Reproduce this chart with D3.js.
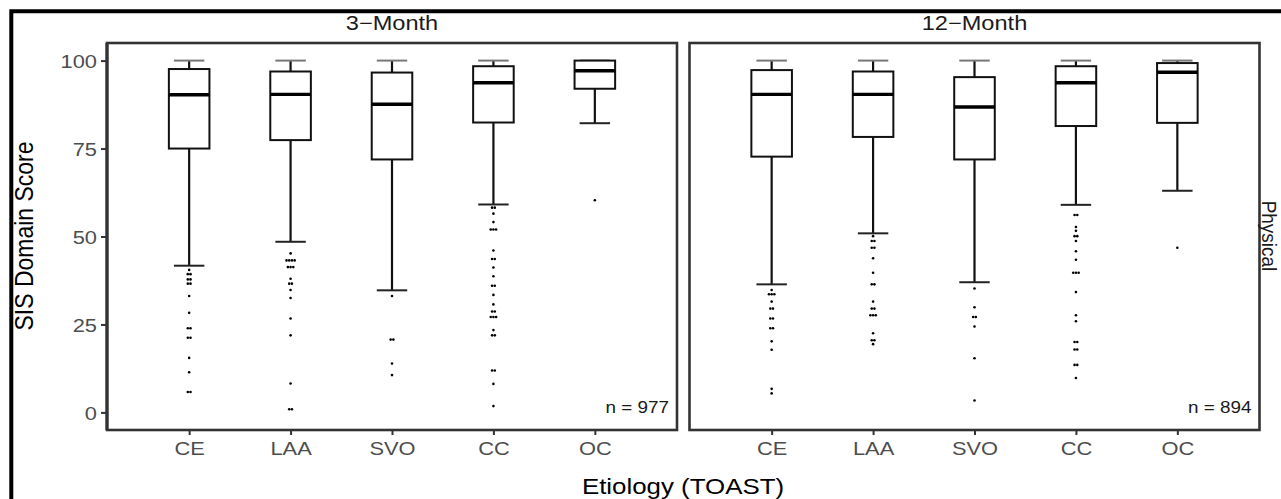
<!DOCTYPE html>
<html>
<head>
<meta charset="utf-8">
<script src="https://cdn.jsdelivr.net/npm/d3@7"></script>
<style>
  body { margin: 0; background: #fff; }
  text { font-family: "Liberation Sans", Arial, sans-serif; }
</style>
</head>
<body>
<div id="sis_box"></div>
<script>
// categories and labels
var etiologies = ['CE', 'LAA', 'SVO', 'CC', 'OC'];
var timepoints = ['3\u2212Month', '12\u2212Month'];
var sampleSizes = [977, 894];
var domainLabel = 'Physical';
var yTicks = [0, 25, 50, 75, 100];

// box stats, 3-month (per etiology)
var whiskerHigh3 = [100, 100, 100, 100, 100];
var q3_3 = [97.6, 96.9, 96.6, 98.4, 100];
var median3 = [90.3, 90.4, 87.6, 93.7, 97.1];
var q1_3 = [75.0, 77.4, 71.9, 82.4, 92.0];
var whiskerLow3 = [41.7, 48.5, 34.7, 59.1, 82.2];
var outliers3 = [
  [40.5, 39.3, 39.3, 37.8, 37.8, 36.6, 36.6, 33.1, 28.3, 23.9, 23.9, 21.2, 21.2, 15.5, 11.4, 5.8, 5.8],
  [45.2, 43.2, 43.2, 43.2, 43.2, 41.3, 41.3, 41.3, 38.0, 36.6, 36.6, 34.8, 32.5, 26.7, 21.9, 8.2, 0.9, 0.9],
  [33.1, 20.7, 20.7, 13.9, 10.6],
  [58.2, 58.2, 56.5, 54.1, 52.0, 52.0, 52.0, 46.0, 43.6, 43.6, 41.2, 38.7, 36.0, 36.0, 33.4, 30.7,
   28.7, 28.7, 27.1, 27.1, 27.1, 23.4, 21.9, 21.9, 11.9, 11.9, 8.1, 1.8],
  [60.3]
];

// box stats, 12-month
var whiskerHigh12 = [100, 100, 100, 100, 100];
var q3_12 = [97.3, 96.9, 95.3, 98.4, 99.3];
var median12 = [90.4, 90.4, 86.8, 93.7, 96.7];
var q1_12 = [72.7, 78.3, 71.9, 81.4, 82.3];
var whiskerLow12 = [36.4, 50.9, 37.0, 59.0, 63.0];
var outliers12 = [
  [34.8, 33.6, 33.6, 33.6, 31.5, 29.5, 29.5, 26.7, 26.7, 23.9, 23.9, 20.2, 17.8, 6.7, 5.4],
  [50.1, 48.7, 48.7, 46.8, 46.8, 43.8, 39.7, 36.4, 36.4, 31.5, 29.5, 29.5, 27.6, 27.6, 27.6, 22.5, 20.5, 20.5, 19.4],
  [35.2, 29.9, 27.1, 27.1, 24.4, 15.4, 3.4],
  [56.1, 56.1, 52.7, 51.6, 50.1, 50.1, 48.7, 45.8, 43.4, 39.7, 39.7, 39.7, 34.2, 27.6, 25.9,
   20.0, 20.0, 17.9, 17.9, 13.5, 13.5, 9.8],
  [46.8]
];

function makeStats(hi, q3, med, q1, lo, out) {
  return etiologies.map(function(e, i) {
    return {etiology: e, hi: hi[i], q3: q3[i], med: med[i], q1: q1[i], lo: lo[i], out: out[i]};
  });
}

var panels = [
  {title: timepoints[0], n: sampleSizes[0], stats: makeStats(whiskerHigh3, q3_3, median3, q1_3, whiskerLow3, outliers3)},
  {title: timepoints[1], n: sampleSizes[1], stats: makeStats(whiskerHigh12, q3_12, median12, q1_12, whiskerLow12, outliers12)}
];

// layout
var W = 1281, H = 499;
var panelLeft = [107, 689.5], panelW = 570;
var panelTop = 43, panelBottom = 430;
var stretch = 'scale(1.18,1)';   // source image is a bit wider than tall

var svg = d3.select('#sis_box').append('svg')
  .attr('width', W)
  .attr('height', H);

var x = d3.scalePoint()
  .domain(etiologies)
  .range([0, panelW])
  .padding(0.81);

var y = d3.scaleLinear()
  .domain([-5, 105])
  .range([panelBottom, panelTop]);

var boxW = x.step() * 0.4,
  capW = x.step() * 0.3;

panels.forEach(function(p, pi) {
  var g = svg.append('g').attr('transform', 'translate(' + panelLeft[pi] + ',0)');

  var box = g.selectAll('.box')
    .data(p.stats)
    .enter().append('g')
    .attr('class', 'box')
    .attr('transform', function(d) { return 'translate(' + x(d.etiology) + ',0)'; });

  // whiskers
  box.append('line')
    .attr('y1', function(d) { return y(d.q3); })
    .attr('y2', function(d) { return y(d.hi); })
    .attr('stroke', '#111').attr('stroke-width', 2.2);
  box.append('line')
    .attr('y1', function(d) { return y(d.q1); })
    .attr('y2', function(d) { return y(d.lo); })
    .attr('stroke', '#111').attr('stroke-width', 2.2);
  box.selectAll('.cap')
    .data(function(d) { return [d.hi, d.lo]; })
    .enter().append('line')
    .attr('class', 'cap')
    .attr('x1', -capW / 2).attr('x2', capW / 2)
    .attr('y1', function(v) { return y(v); })
    .attr('y2', function(v) { return y(v); })
    .attr('stroke', function(v, i) { return i === 0 ? '#777' : '#222'; })
    .attr('stroke-width', 2);

  // box + median
  box.append('rect')
    .attr('x', -boxW / 2)
    .attr('width', boxW)
    .attr('y', function(d) { return y(d.q3); })
    .attr('height', function(d) { return y(d.q1) - y(d.q3); })
    .attr('fill', '#fff')
    .attr('stroke', '#111')
    .attr('stroke-width', 2);
  box.append('line')
    .attr('x1', -boxW / 2).attr('x2', boxW / 2)
    .attr('y1', function(d) { return y(d.med); })
    .attr('y2', function(d) { return y(d.med); })
    .attr('stroke', '#000')
    .attr('stroke-width', 3.4);

  // outliers, tied values sit side by side
  box.selectAll('.out')
    .data(function(d) {
      var pts = [];
      d3.groups(d.out, function(v) { return v; }).forEach(function(grp) {
        grp[1].forEach(function(v, j) {
          pts.push({v: v, k: j - (grp[1].length - 1) / 2});
        });
      });
      return pts;
    })
    .enter().append('circle')
    .attr('class', 'out')
    .attr('cx', function(o) { return o.k * 2.7; })
    .attr('cy', function(o) { return y(o.v); })
    .attr('r', 1.3)
    .attr('fill', '#000');

  // panel border
  g.append('rect')
    .attr('x', 0).attr('y', panelTop)
    .attr('width', panelW).attr('height', panelBottom - panelTop)
    .attr('fill', 'none')
    .attr('stroke', '#333')
    .attr('stroke-width', 2.6);

  // x axis
  var xa = g.append('g')
    .attr('transform', 'translate(0,' + panelBottom + ')')
    .call(d3.axisBottom(x).tickSize(5).tickSizeOuter(0));
  xa.select('.domain').remove();
  xa.selectAll('line').attr('stroke', '#333').attr('stroke-width', 2);
  xa.selectAll('text')
    .attr('y', 25).attr('dy', null)
    .attr('transform', stretch)
    .attr('fill', '#4d4d4d')
    .style('font-size', '18.5px')
    .style('font-family', '"Liberation Sans", Arial, sans-serif');

  // y axis only on the first panel
  if (pi === 0) {
    g.append('line')
      .attr('x1', 0).attr('x2', 0)
      .attr('y1', panelTop).attr('y2', panelBottom)
      .attr('stroke', '#333').attr('stroke-width', 3.2);
    var ya = g.append('g')
      .call(d3.axisLeft(y).tickValues(yTicks).tickSize(6).tickSizeOuter(0));
    ya.select('.domain').remove();
    ya.selectAll('line').attr('stroke', '#333').attr('stroke-width', 2);
    ya.selectAll('text')
      .attr('x', 0).attr('dy', '0.36em')
      .attr('transform', 'translate(-10,0) ' + stretch)
      .attr('fill', '#4d4d4d')
      .style('font-size', '18.5px')
      .style('font-family', '"Liberation Sans", Arial, sans-serif');
  }

  // strip title
  g.append('text')
    .attr('transform', 'translate(' + panelW / 2 + ',29.5) ' + stretch)
    .attr('text-anchor', 'middle')
    .attr('fill', '#1a1a1a')
    .style('font-size', '20px')
    .text(p.title);

  // sample size
  g.append('text')
    .attr('transform', 'translate(' + (panelW - 8) + ',413) ' + stretch)
    .attr('text-anchor', 'end')
    .attr('fill', '#1a1a1a')
    .style('font-size', '16px')
    .text('n = ' + p.n);
});

// axis titles
svg.append('text')
  .attr('transform', 'translate(683,494) scale(1.15,1)')
  .attr('text-anchor', 'middle')
  .attr('fill', '#000')
  .style('font-size', '22.5px')
  .text('Etiology (TOAST)');

svg.append('text')
  .attr('transform', 'translate(32.5,236) scale(1.12,1) rotate(-90)')
  .attr('text-anchor', 'middle')
  .attr('fill', '#000')
  .style('font-size', '23px')
  .text('SIS Domain Score');

// row strip label at the right edge
svg.append('text')
  .attr('transform', 'translate(1262,236) scale(1.03,1) rotate(90)')
  .attr('text-anchor', 'middle')
  .attr('fill', '#1a1a1a')
  .style('font-size', '19px')
  .text(domainLabel);

// outer frame (top and left edges only)
svg.append('path')
  .attr('d', 'M11.3,' + H + 'V11.3H' + W)
  .attr('fill', 'none')
  .attr('stroke', '#000')
  .attr('stroke-width', 4);
</script>
</body>
</html>
